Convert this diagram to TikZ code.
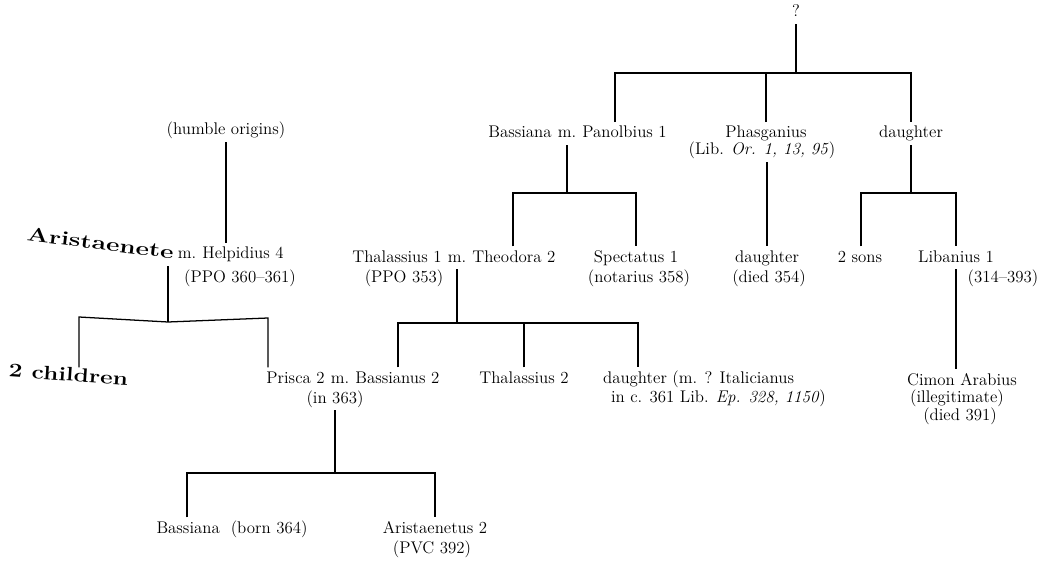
\documentclass[tikz,border=0pt]{standalone}
\usepackage{tikz}
\usetikzlibrary{positioning}

\begin{document}
\begin{tikzpicture}[x=0.025cm, y=-0.025cm,
    person/.style={font=\fontsize{12}{14}\selectfont, inner sep=2pt, text height=9pt, text depth=3pt, anchor=base},
    bigname/.style={person, inner sep=1pt},
    tie/.style={line width=0.9pt}]
        \useasboundingbox (0,0) rectangle (1052,564);

        % first generation
        \node[person] (q) at (796,17) {?};
        \node[person] (mBP) at (567,138) {m.};
        \node[person, base left=0pt of mBP] (bassiana) {Bassiana};
        \node[person, base right=0pt of mBP] (panolbius) {Panolbius 1};
        \node[person] (phasg) at (766,138) {Phasganius};
        \node[person] (phasgRef) at (762,155) {(Lib. \textit{Or. 1, 13, 95})};
        \node[person] (dtrA) at (911,138) {daughter};

        % second generation
        \node[person] (mTT) at (457,262) {m.};
        \node[person, base left=0pt of mTT] (thalI) {Thalassius 1};
        \node[person, base right=0pt of mTT] (theodora) {Theodora 2};
        \node[person] (ppo353) at (404,282) {(PPO 353)};
        \node[person] (spectatus) at (636,262) {Spectatus 1};
        \node[person] (notarius) at (639,282) {(notarius 358)};
        \node[person] (dtrB) at (767,262) {daughter};
        \node[person] (died354) at (769,282) {(died 354)};
        \node[person] (twosons) at (860,262) {2 sons};
        \node[person] (libanius) at (956,262) {Libanius 1};
        \node[person] (libDates) at (1003,282) {(314--393)};

        \node[person] (humble) at (226,135) {(humble origins)};
        \node[person] (mAH) at (187,259) {m.};
        \node[bigname, base left=0pt of mAH, rotate=-7] (aristI) {\scalebox{1.55}[1.15]{\bfseries Aristaenete}};
        \node[person, base right=0pt of mAH] (helpidius) {Helpidius 4};
        \node[person] (ppoH) at (240,282) {(PPO 360--361)};

        % third generation
        \node[bigname, rotate=-4] (children) at (68,381) {\scalebox{1.45}[1.15]{\bfseries 2 children}};
        \node[person] (mPB) at (340,383) {m.};
        \node[person, base left=0pt of mPB] (prisca) {Prisca 2};
        \node[person, base right=0pt of mPB] (bassianus) {Bassianus 2};
        \node[person] (in363) at (335,403) {(in 363)};
        \node[person] (thalII) at (524,383) {Thalassius 2};
        \node[person, anchor=base west] (dtrC) at (600,383) {daughter (m. ? Italicianus};
        \node[person, anchor=base west] (dtrCref) at (608,402) {in c. 361 Lib. \textit{Ep. 328, 1150})};
        \node[person] (cimon) at (962,385) {Cimon Arabius};
        \node[person] (illeg) at (957,402) {(illegitimate)};
        \node[person] (died391) at (960,420) {(died 391)};

        % fourth generation
        \node[person] (bassianaII) at (232,533) {Bassiana\ \ (born 364)};
        \node[person] (aristII) at (435,533) {Aristaenetus 2};
        \node[person] (pvc) at (432,553) {(PVC 392)};

        % lines of descent
        \coordinate (barTop) at (615,73);
        \draw[tie] (q.south) -- (q.south |- barTop);
        \draw[tie] (barTop |- mBP.north) -- (barTop) -| (dtrA.north);
        \draw[tie] (phasg.north) -- (phasg.north |- barTop);

        \coordinate (barBP) at (513,193);
        \draw[tie] (mBP.south) -- (mBP.south |- barBP);
        \draw[tie] (barBP |- theodora.north) -- (barBP) -| (spectatus.north);

        \draw[tie] (dtrB.north |- phasgRef.south) -- (dtrB.north);

        \coordinate (barDA) at (861,193);
        \draw[tie] (dtrA.south) -- (dtrA.south |- barDA);
        \draw[tie] (barDA |- twosons.north) -- (barDA) -| (libanius.north);
        \draw[tie] (libanius.south) -- (libanius.south |- cimon.north);

        \coordinate (barTT) at (398,323);
        \coordinate (barTTr) at (638,323);
        \draw[tie] (mTT.south) -- (mTT.south |- barTT);
        \draw[tie] (barTT |- bassianus.north) -- (barTT) -- (barTTr) -- (barTTr |- dtrC.north);
        \draw[tie] (thalII.north) -- (thalII.north |- barTT);

        \draw[tie] (humble.south) -- (humble.south |- helpidius.north);
        \coordinate (barAH) at (168,322);
        \coordinate (barAHl) at (79,317);
        \coordinate (barAHr) at (268,318);
        \draw[tie] (barAH |- mAH.south) -- (barAH);
        \draw[tie] (barAHl |- prisca.north) -- (barAHl) -- (barAH) -- (barAHr) -- (barAHr |- prisca.north);

        \coordinate (barPB) at (187,473);
        \draw[tie] (in363.south) -- (in363.south |- barPB);
        \draw[tie] (barPB |- bassianaII.north) -- (barPB) -| (aristII.north);
\end{tikzpicture}
\end{document}
